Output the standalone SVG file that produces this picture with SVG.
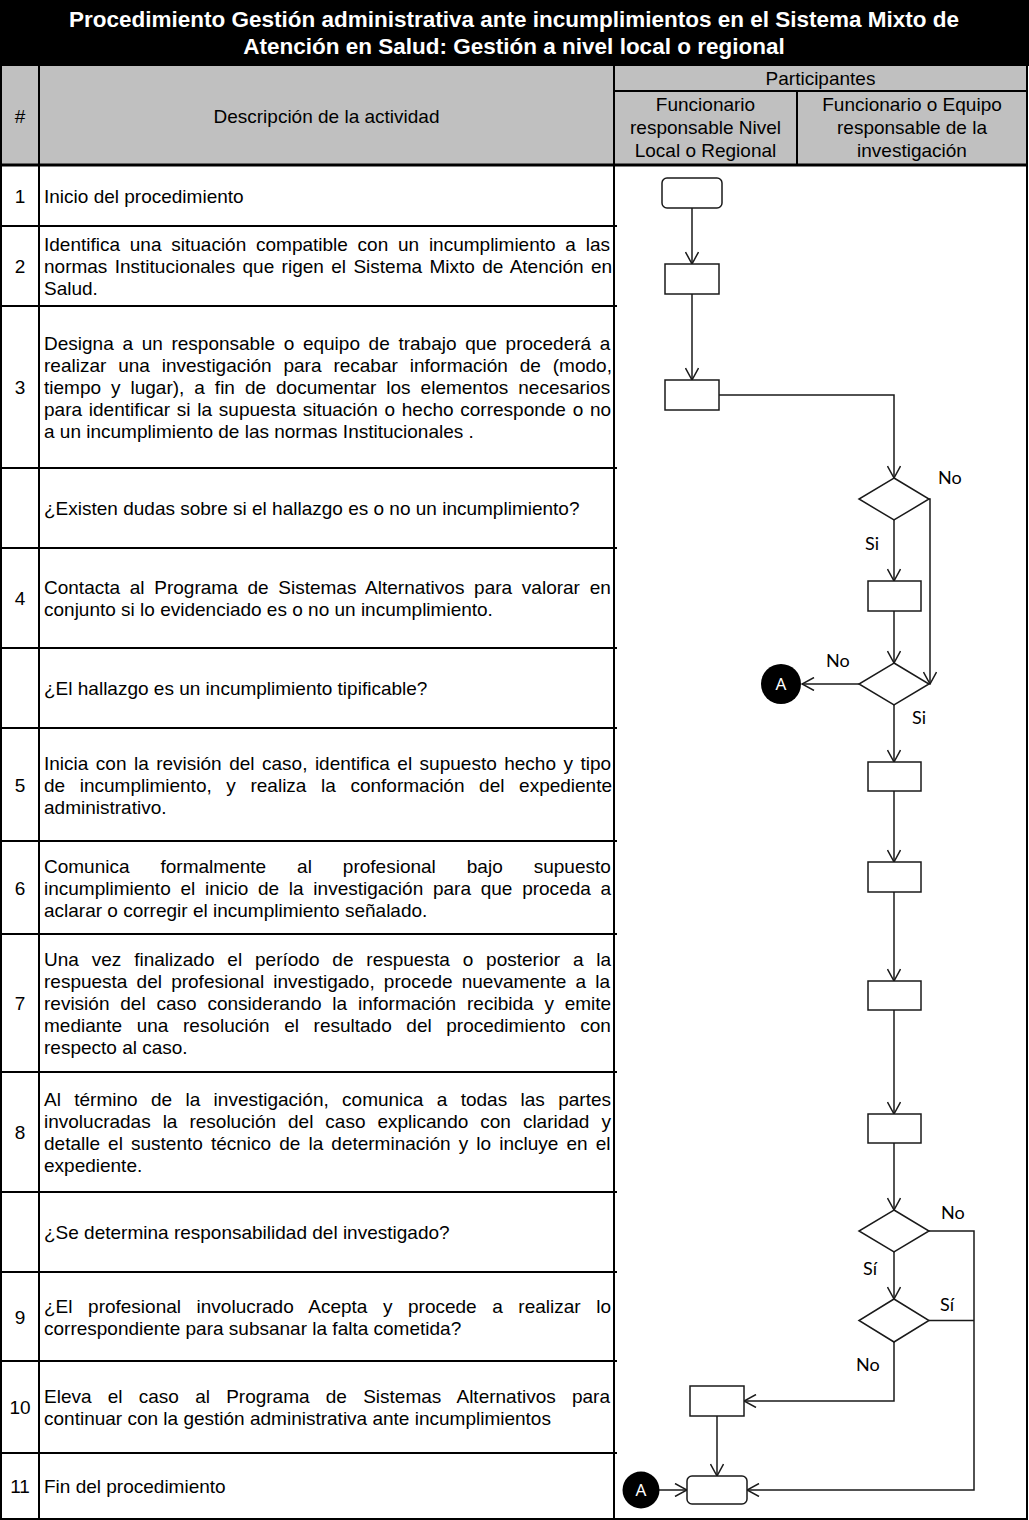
<svg xmlns="http://www.w3.org/2000/svg" width="1029" height="1520" viewBox="0 0 1029 1520">
<style>
.grid{stroke:#000;stroke-width:2;fill:none}
.t{font-family:"Liberation Sans",Arial,sans-serif;font-size:19px;fill:#000}
.c{text-anchor:middle}
.title{font-family:"Liberation Sans",Arial,sans-serif;font-size:22.5px;font-weight:bold;fill:#fff;text-anchor:middle}
.shape{fill:#fff;stroke:#1a1a1a;stroke-width:1.5}
.conn{fill:none;stroke:#1a1a1a;stroke-width:1.5}
.arr{marker-end:url(#ah)}
.lbl{font-family:Lato,"Noto Sans",sans-serif;font-size:18px;fill:#000}
.conA{fill:#000}
.conAt{font-family:"Noto Sans",sans-serif;font-size:17px;fill:#fff;text-anchor:middle}
</style>
<defs>
<marker id="ah" viewBox="0 0 14 14" refX="13" refY="7" markerWidth="14" markerHeight="14" markerUnits="userSpaceOnUse" orient="auto">
<path d="M1,0.5 L13,7 L1,13.5" fill="none" stroke="#1a1a1a" stroke-width="1.5"/>
</marker>
</defs>
<rect x="0" y="0" width="1029" height="1520" fill="#fff"/>
<g id="title">
<rect x="0" y="0" width="1029" height="66" fill="#000"/>
<text class="title" x="514" y="27">Procedimiento Gestión administrativa ante incumplimientos en el Sistema Mixto de</text>
<text class="title" x="514" y="54">Atención en Salud: Gestión a nivel local o regional</text>
</g>
<g id="header">
<rect x="1" y="66" width="1026" height="99" fill="#c0c0c0"/>
<text class="t c" x="20" y="123">#</text>
<text class="t c" x="326.5" y="123">Descripción de la actividad</text>
<text class="t c" x="820.5" y="85">Participantes</text>
<text class="t c" x="705.5" y="111">Funcionario</text>
<text class="t c" x="705.5" y="134">responsable Nivel</text>
<text class="t c" x="705.5" y="157">Local o Regional</text>
<text class="t c" x="912" y="111">Funcionario o Equipo</text>
<text class="t c" x="912" y="134">responsable de la</text>
<text class="t c" x="912" y="157">investigación</text>
</g>
<g id="grid">
<line class="grid" x1="614" y1="91" x2="1027" y2="91"/>
<line class="grid" x1="797" y1="91" x2="797" y2="165"/>
<line class="grid" x1="39" y1="66" x2="39" y2="1519"/>
<line class="grid" x1="614" y1="66" x2="614" y2="1519"/>
<line class="grid" x1="1" y1="66" x2="1" y2="1519"/>
<line class="grid" x1="1027" y1="66" x2="1027" y2="1519"/>
<line class="grid" x1="0" y1="1519" x2="1028" y2="1519"/>
<line class="grid" x1="0" y1="165" x2="1028" y2="165" style="stroke-width:3"/>
<line class="grid" x1="1" y1="226" x2="617" y2="226"/>
<line class="grid" x1="1" y1="306" x2="617" y2="306"/>
<line class="grid" x1="1" y1="468" x2="617" y2="468"/>
<line class="grid" x1="1" y1="548" x2="617" y2="548"/>
<line class="grid" x1="1" y1="648" x2="617" y2="648"/>
<line class="grid" x1="1" y1="728" x2="617" y2="728"/>
<line class="grid" x1="1" y1="841" x2="617" y2="841"/>
<line class="grid" x1="1" y1="934" x2="617" y2="934"/>
<line class="grid" x1="1" y1="1072" x2="617" y2="1072"/>
<line class="grid" x1="1" y1="1192" x2="617" y2="1192"/>
<line class="grid" x1="1" y1="1272" x2="617" y2="1272"/>
<line class="grid" x1="1" y1="1361" x2="617" y2="1361"/>
<line class="grid" x1="1" y1="1453" x2="617" y2="1453"/>
</g>
<g id="rows">
<text class="t c" x="20" y="202.5">1</text>
<text class="t" x="44" y="202.5">Inicio del procedimiento</text>

<text class="t c" x="20" y="273">2</text>
<text class="t" x="44" y="251" style="word-spacing:4.47px">Identifica una situación compatible con un incumplimiento a las</text>
<text class="t" x="44" y="273" style="word-spacing:2.1px">normas Institucionales que rigen el Sistema Mixto de Atención en</text>
<text class="t" x="44" y="295">Salud.</text>

<text class="t c" x="20" y="394">3</text>
<text class="t" x="44" y="350" style="word-spacing:3.4px">Designa a un responsable o equipo de trabajo que procederá a</text>
<text class="t" x="44" y="372" style="word-spacing:6.6px">realizar una investigación para recabar información de (modo,</text>
<text class="t" x="44" y="394" style="word-spacing:4.7px">tiempo y lugar), a fin de documentar los elementos necesarios</text>
<text class="t" x="44" y="416" style="word-spacing:1.47px">para identificar si la supuesta situación o hecho corresponde o no</text>
<text class="t" x="44" y="438">a un incumplimiento de las normas Institucionales .</text>

<text class="t" x="44" y="515">¿Existen dudas sobre si el hallazgo es o no un incumplimiento?</text>

<text class="t c" x="20" y="605">4</text>
<text class="t" x="44" y="594" style="word-spacing:4.45px">Contacta al Programa de Sistemas Alternativos para valorar en</text>
<text class="t" x="44" y="616">conjunto si lo evidenciado es o no un incumplimiento.</text>

<text class="t" x="44" y="695">¿El hallazgo es un incumplimiento tipificable?</text>

<text class="t c" x="20" y="791.5">5</text>
<text class="t" x="44" y="769.5" style="word-spacing:2.2px">Inicia con la revisión del caso, identifica el supuesto hecho y tipo</text>
<text class="t" x="44" y="791.5" style="word-spacing:9.33px">de incumplimiento, y realiza la conformación del expediente</text>
<text class="t" x="44" y="813.5">administrativo.</text>

<text class="t c" x="20" y="894.5">6</text>
<text class="t" x="44" y="872.5" style="word-spacing:25.7px">Comunica formalmente al profesional bajo supuesto</text>
<text class="t" x="44" y="894.5" style="word-spacing:4.45px">incumplimiento el inicio de la investigación para que proceda a</text>
<text class="t" x="44" y="916.5">aclarar o corregir el incumplimiento señalado.</text>

<text class="t c" x="20" y="1010">7</text>
<text class="t" x="44" y="966" style="word-spacing:7.6px">Una vez finalizado el período de respuesta o posterior a la</text>
<text class="t" x="44" y="988" style="word-spacing:3.9px">respuesta del profesional investigado, procede nuevamente a la</text>
<text class="t" x="44" y="1010" style="word-spacing:5.55px">revisión del caso considerando la información recibida y emite</text>
<text class="t" x="44" y="1032" style="word-spacing:9.3px">mediante una resolución el resultado del procedimiento con</text>
<text class="t" x="44" y="1054">respecto al caso.</text>

<text class="t c" x="20" y="1139">8</text>
<text class="t" x="44" y="1106" style="word-spacing:8.08px">Al término de la investigación, comunica a todas las partes</text>
<text class="t" x="44" y="1128" style="word-spacing:6.7px">involucradas la resolución del caso explicando con claridad y</text>
<text class="t" x="44" y="1150" style="word-spacing:2.82px">detalle el sustento técnico de la determinación y lo incluye en el</text>
<text class="t" x="44" y="1172">expediente.</text>

<text class="t" x="44" y="1239">¿Se determina responsabilidad del investigado?</text>

<text class="t c" x="20" y="1323.5">9</text>
<text class="t" x="44" y="1312.5" style="word-spacing:10.28px">¿El profesional involucrado Acepta y procede a realizar lo</text>
<text class="t" x="44" y="1334.5">correspondiente para subsanar la falta cometida?</text>

<text class="t c" x="20" y="1414">10</text>
<text class="t" x="44" y="1403" style="word-spacing:10.95px">Eleva el caso al Programa de Sistemas Alternativos para</text>
<text class="t" x="44" y="1425">continuar con la gestión administrativa ante incumplimientos</text>

<text class="t c" x="20" y="1493">11</text>
<text class="t" x="44" y="1493">Fin del procedimiento</text>
</g>
<g id="connectors">
<line class="conn arr" x1="692" y1="208" x2="692" y2="264"/>
<line class="conn arr" x1="692" y1="294" x2="692" y2="380"/>
<polyline class="conn arr" points="719,395 894,395 894,478"/>
<line class="conn arr" x1="894" y1="520" x2="894" y2="581"/>
<polyline class="conn arr" points="929,499 930,499 930,684"/>
<line class="conn arr" x1="894" y1="611" x2="894" y2="663"/>
<line class="conn arr" x1="859" y1="684" x2="802" y2="684"/>
<line class="conn arr" x1="894" y1="705" x2="894" y2="762"/>
<line class="conn arr" x1="894" y1="791" x2="894" y2="862"/>
<line class="conn arr" x1="894" y1="892" x2="894" y2="981"/>
<line class="conn arr" x1="894" y1="1010" x2="894" y2="1114"/>
<line class="conn arr" x1="894" y1="1143" x2="894" y2="1210"/>
<polyline class="conn arr" points="929,1231 974,1231 974,1490 747,1490"/>
<line class="conn arr" x1="894" y1="1252" x2="894" y2="1299"/>
<line class="conn" x1="929" y1="1320.5" x2="974" y2="1320.5"/>
<polyline class="conn arr" points="894,1342 894,1401 744,1401"/>
<line class="conn arr" x1="717" y1="1416" x2="717" y2="1476"/>
<line class="conn arr" x1="659" y1="1490" x2="687" y2="1490"/>
<text class="lbl" x="938" y="484">No</text>
<text class="lbl" x="865" y="550">Si</text>
<text class="lbl" x="826" y="667">No</text>
<text class="lbl" x="912" y="724">Si</text>
<text class="lbl" x="941" y="1219">No</text>
<text class="lbl" x="863" y="1275">Sí</text>
<text class="lbl" x="940" y="1311">Sí</text>
<text class="lbl" x="856" y="1371">No</text>
</g>
<g id="n1"><rect class="shape" x="662" y="178" width="60" height="30" rx="5"/></g>
<g id="n2"><rect class="shape" x="665" y="264" width="54" height="30"/></g>
<g id="n3"><rect class="shape" x="665" y="380" width="54" height="30"/></g>
<g id="d1"><polygon class="shape" points="894,478 929,499 894,520 859,499"/></g>
<g id="n4"><rect class="shape" x="868" y="581" width="53" height="30"/></g>
<g id="d2"><polygon class="shape" points="894,663 929,684 894,705 859,684"/></g>
<g id="a1"><circle class="conA" cx="781" cy="684" r="20"/><text class="conAt" x="781" y="690">A</text></g>
<g id="n5"><rect class="shape" x="868" y="762" width="53" height="29"/></g>
<g id="n6"><rect class="shape" x="868" y="862" width="53" height="30"/></g>
<g id="n7"><rect class="shape" x="868" y="981" width="53" height="29"/></g>
<g id="n8"><rect class="shape" x="868" y="1114" width="53" height="29"/></g>
<g id="d3"><polygon class="shape" points="894,1210 929,1231 894,1252 859,1231"/></g>
<g id="d4"><polygon class="shape" points="894,1299 929,1320.5 894,1342 859,1320.5"/></g>
<g id="n10"><rect class="shape" x="690" y="1386" width="54" height="30"/></g>
<g id="n11"><rect class="shape" x="687" y="1476" width="60" height="28" rx="5"/></g>
<g id="a2"><circle class="conA" cx="641" cy="1490" r="18.5"/><text class="conAt" x="641" y="1496">A</text></g>
</svg>
